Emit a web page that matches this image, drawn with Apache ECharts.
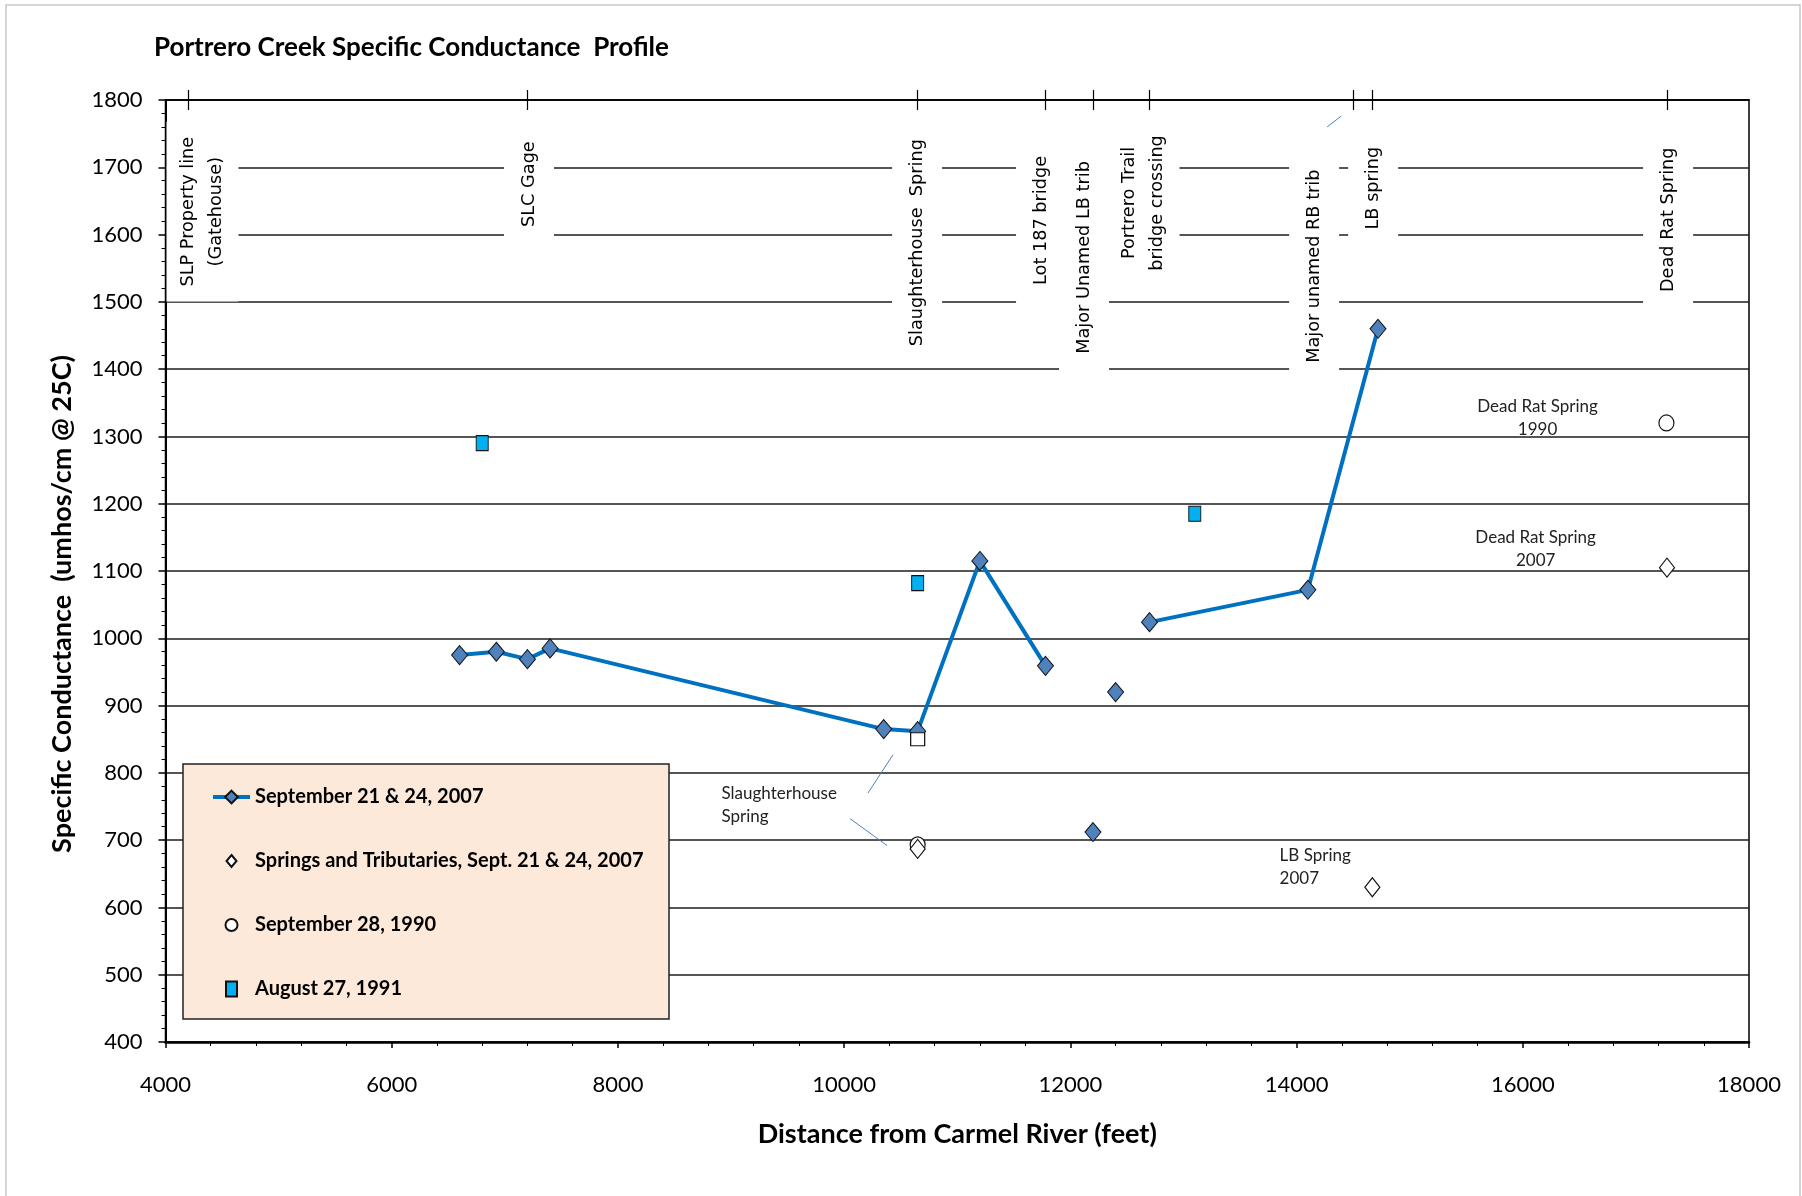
<!DOCTYPE html>
<html>
<head>
<meta charset="utf-8">
<script src="https://cdn.jsdelivr.net/npm/echarts@6/dist/echarts.min.js"></script>
<style>
  html, body { margin: 0; padding: 0; background: #fff; }
  #chart { width: 1802px; height: 1196px; }
</style>
</head>
<body>
<div id="chart"></div>
<script>
// Main-stem survey, September 21 & 24, 2007 (two reaches, no reading in between)
const lowerReachDistance = [6600, 6925, 7200, 7400, 10350, 10650, 11200, 11780];
const lowerReachConductance = [975, 980, 969, 985, 865, 862, 1115, 959];
const upperReachDistance = [12700, 14100, 14720];
const upperReachConductance = [1024, 1072, 1460];
// Same survey, readings not joined to the profile line
const looseDistance2007 = [12200, 12400];
const looseConductance2007 = [712, 920];

// Springs and tributaries, Sept. 21 & 24, 2007
const springDistance2007 = [10650, 14670, 17275];
const springConductance2007 = [687, 630, 1105];

// September 28, 1990
const distance1990 = [10650, 17270];
const conductance1990 = [693, 1320];

// August 27, 1991
const distance1991 = [6800, 10650, 13100];
const conductance1991 = [1290, 1082, 1185];

// Slaughterhouse Spring, open square reading
const openSquareDistance = [10650];
const openSquareConductance = [850];

// Landmarks along the creek (tick positions on the top edge)
const siteDistance = [4200, 7200, 10650, 11780, 12200, 12700, 14500, 14670, 17280];
const siteNames = [
  'SLP Property line\n(Gatehouse)',
  'SLC Gage',
  'Slaughterhouse  Spring',
  'Lot 187 bridge',
  'Major Unamed LB trib',
  'Portrero Trail\nbridge crossing',
  'Major unamed RB trib',
  'LB spring',
  'Dead Rat Spring'
];
const siteLabelDistance = [4327, 7214, 10645, 11741, 12121, 12647, 14155, 14677, 17285];
const siteLabelLevel = [1634, 1675, 1588, 1621, 1566, 1647, 1553, 1669, 1622];

// Callout notes and their leader lines
const noteText = ['Slaughterhouse\nSpring', 'Dead Rat Spring\n1990', 'Dead Rat Spring\n2007', 'LB Spring\n2007'];
const noteDistance = [8920, 16135, 16118, 13854];
const noteLevel = [751, 1327, 1132, 659];
const noteAlign = ['left', 'center', 'center', 'left'];
const leaderLines = [
  [[10432, 827], [10211, 770]],
  [[10052, 732], [10379, 692]],
  [[14394, 1776], [14270, 1760]]
];

// Axis ticks
const xTickMin = 4000, xTickMax = 18000, xTickStep = 2000;
const yTickMin = 400, yTickMax = 1800, yTickStep = 100;

const pairs = (xs, ys) => xs.map((x, i) => [x, ys[i]]);
const plainNumber = v => String(v);

const SERIES_2007 = 'September 21 & 24, 2007';
const SERIES_SPRINGS = 'Springs and Tributaries, Sept. 21 & 24, 2007';
const SERIES_1990 = 'September 28, 1990';
const SERIES_1991 = 'August 27, 1991';

const calibriLike = 'Lato, "Open Sans", sans-serif';

const mainDiamond = {
  symbol: 'diamond',
  symbolSize: [16, 19],
  itemStyle: { color: '#4F81BD', borderColor: '#111', borderWidth: 1, opacity: 1 }
};
const mainLine = { color: '#0070C0', width: 4 };
const openMark = { color: '#fff', borderColor: '#111', borderWidth: 1.2, opacity: 1 };

const chart = echarts.init(document.getElementById('chart'), null, { renderer: 'canvas' });

chart.setOption({
  animation: false,
  backgroundColor: '#fff',
  title: {
    text: 'Portrero Creek Specific Conductance  Profile',
    left: 154,
    top: 35,
    padding: 0,
    textStyle: { fontFamily: calibriLike, fontWeight: 'bold', fontSize: 26, color: '#000' }
  },
  grid: {
    left: 165.5, top: 100, width: 1583.5, height: 942,
    show: true, borderColor: '#000', borderWidth: 1.5, backgroundColor: 'transparent'
  },
  legend: {
    orient: 'vertical',
    left: 211,
    top: 787,
    padding: 0,
    itemWidth: 37,
    itemHeight: 16,
    itemGap: 44,
    selectedMode: false,
    textStyle: { fontFamily: calibriLike, fontWeight: 'bold', fontSize: 20, color: '#000' },
    data: [
      { name: SERIES_2007, lineStyle: { color: '#0070C0', width: 4 } },
      { name: SERIES_SPRINGS, icon: 'path://M0,0M16,16M8,2L13,8L8,14L3,8Z' },
      { name: SERIES_1990, icon: 'path://M0,0M16,16M14,8A6,6,0,1,1,2,8A6,6,0,1,1,14,8Z' },
      { name: SERIES_1991, icon: 'path://M0,0M16,16M2.5,0.5L13.5,0.5L13.5,15.5L2.5,15.5Z' }
    ]
  },
  xAxis: [
    {
      type: 'value', position: 'bottom',
      min: xTickMin, max: xTickMax, interval: xTickStep,
      axisLine: { lineStyle: { color: '#000', width: 2.5 } },
      axisTick: { length: 6, lineStyle: { color: '#000', width: 1.5 } },
      minorTick: { show: true, splitNumber: 5, length: 4, lineStyle: { color: '#000', width: 1 } },
      splitLine: { show: false },
      axisLabel: { margin: 32, fontFamily: calibriLike, fontSize: 22, color: '#000', formatter: plainNumber },
      name: 'Distance from Carmel River (feet)',
      nameLocation: 'middle',
      nameGap: 79,
      nameTextStyle: { fontFamily: calibriLike, fontWeight: 'bold', fontSize: 27, color: '#000' }
    },
    {
      type: 'value', position: 'top',
      min: xTickMin, max: xTickMax, interval: xTickStep,
      axisLine: { show: true, lineStyle: { color: '#000', width: 1.5 } },
      axisTick: { show: false }, axisLabel: { show: false }, splitLine: { show: false }
    },
    {
      type: 'value', position: 'top', offset: 10,
      min: xTickMin, max: xTickMax, interval: xTickStep,
      axisLine: { show: false },
      axisTick: { show: true, inside: true, length: 20, customValues: siteDistance,
                  lineStyle: { color: '#000', width: 1.2 } },
      axisLabel: { show: false }, splitLine: { show: false }
    }
  ],
  yAxis: [
    {
      type: 'value',
      min: yTickMin, max: yTickMax, interval: yTickStep,
      axisLine: { show: true, lineStyle: { color: '#000', width: 2 } },
      axisTick: { show: true, length: 7, lineStyle: { color: '#000', width: 1.5 } },
      minorTick: { show: true, splitNumber: 5, length: 4, lineStyle: { color: '#000', width: 1 } },
      splitLine: { show: true, lineStyle: { color: '#1c1c1c', width: 1.5 } },
      axisLabel: { margin: 23, fontFamily: calibriLike, fontSize: 22, color: '#000', formatter: plainNumber }
    }
  ],
  graphic: [
    {
      type: 'rect', z: -10, silent: true,
      shape: { x: 6, y: 5, width: 1794, height: 1220 },
      style: { fill: 'none', stroke: '#c8c8c8', lineWidth: 1.5 }
    },
    {
      type: 'rect', z: 3, silent: true,
      shape: { x: 183, y: 764, width: 486, height: 255 },
      style: { fill: '#FDE9D9', stroke: '#222', lineWidth: 1.5 }
    },
    {
      type: 'text', z: 5, silent: true,
      x: 62, y: 604, rotation: Math.PI / 2,
      style: {
        text: 'Specific Conductance  (umhos/cm @ 25C)',
        font: 'bold 27px ' + calibriLike,
        fill: '#000', align: 'center', verticalAlign: 'middle'
      }
    }
  ],
  series: [
    // landmark names along the top of the plot, on white boxes
    {
      type: 'scatter', name: 'landmarks', z: 1, silent: true,
      symbolSize: 1, itemStyle: { color: 'transparent', opacity: 1 },
      data: siteLabelDistance.map((d, i) => {
        const twoLines = siteNames[i].indexOf('\n') >= 0;
        return {
          name: siteNames[i], value: [d, siteLabelLevel[i]],
          label: twoLines ? { lineHeight: 28, padding: [8, 15] } : { lineHeight: 22, padding: [14, 18] }
        };
      }),
      label: {
        show: true, position: 'inside', rotate: 90, formatter: '{b}',
        fontFamily: '"DejaVu Sans", Verdana, sans-serif', fontSize: 17.7,
        color: '#000', opacity: 1, align: 'center', verticalAlign: 'middle',
        backgroundColor: '#fff'
      }
    },
    // callout notes with leader lines
    {
      type: 'scatter', name: 'notes', z: 2, silent: true,
      symbolSize: 1, itemStyle: { color: 'transparent', opacity: 1 },
      data: noteDistance.map((d, i) => ({
        name: noteText[i], value: [d, noteLevel[i]],
        label: { align: noteAlign[i] }
      })),
      label: {
        show: true, position: [0, 0], formatter: '{b}',
        fontFamily: calibriLike, fontSize: 17, lineHeight: 23,
        color: '#222', opacity: 1, verticalAlign: 'middle'
      },
      markLine: {
        silent: true, symbol: ['none', 'none'], animation: false,
        label: { show: false },
        lineStyle: { color: '#4F81BD', width: 1, type: 'solid' },
        emphasis: { disabled: true },
        data: leaderLines.map(l => [{ coord: l[0] }, { coord: l[1] }])
      }
    },
    {
      type: 'line', name: SERIES_2007, z: 3,
      data: pairs(lowerReachDistance, lowerReachConductance),
      lineStyle: mainLine, ...mainDiamond
    },
    {
      type: 'line', name: SERIES_2007, z: 3,
      data: pairs(upperReachDistance, upperReachConductance),
      lineStyle: mainLine, ...mainDiamond
    },
    {
      type: 'scatter', name: SERIES_2007, z: 3,
      data: pairs(looseDistance2007, looseConductance2007),
      ...mainDiamond
    },
    {
      type: 'scatter', name: SERIES_1991, z: 3,
      data: pairs(distance1991, conductance1991),
      symbol: 'rect', symbolSize: [12, 15],
      itemStyle: { color: '#00B0F0', borderColor: '#111', borderWidth: 1, opacity: 1 }
    },
    {
      type: 'scatter', name: 'Slaughterhouse Spring open square', z: 3,
      data: pairs(openSquareDistance, openSquareConductance),
      symbol: 'rect', symbolSize: [14, 13],
      itemStyle: openMark
    },
    {
      type: 'scatter', name: SERIES_1990, z: 3,
      data: pairs(distance1990, conductance1990),
      symbol: 'circle', symbolSize: [15, 16],
      itemStyle: openMark
    },
    {
      type: 'scatter', name: SERIES_SPRINGS, z: 4,
      data: pairs(springDistance2007, springConductance2007),
      symbol: 'diamond', symbolSize: [15, 19],
      itemStyle: openMark
    }
  ]
});
</script>
</body>
</html>
